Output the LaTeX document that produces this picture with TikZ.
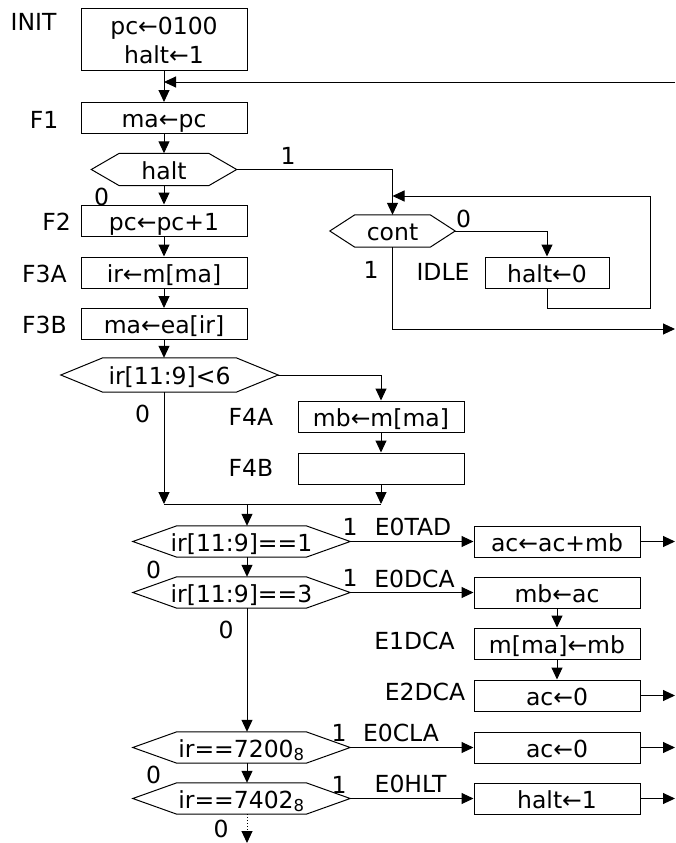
\documentclass[tikz,border=0pt]{standalone}
\usepackage{fontspec}
\setmainfont{DejaVu Sans}
\usetikzlibrary{arrows.meta}

\begin{document}
\begin{tikzpicture}[
	x=1pt, y=-1pt, % one unit per pixel, y downwards
	% Text in every part of the chart
	every node/.style={font=\fontsize{23.5}{29}\selectfont},
	% Boxes for the register transfers
	box/.style={
		draw, 
		line width=1pt, 
		minimum width=166, 
		minimum height=31, 
		inner sep=0pt
	},
	state/.style={
		box, 
		text height=19pt, 
		text depth=0pt
	},
	% Tests (the hexagon is drawn round them afterwards)
	test/.style={
		minimum height=32, 
		inner sep=0pt, 
		text height=19pt, 
		text depth=0pt
	},
	% State names and branch values
	tag/.style={inner sep=0pt},
	% Connectors
	link/.style={
		draw, 
		line width=1pt, 
		-{Triangle[length=12pt, width=11pt]}
	},
	wire/.style={draw, line width=1pt}
	]
	
	\useasboundingbox (0,0) rectangle (675,843);
	
	% ================= BOXES =================
	\node[box, minimum height=62, align=center] (init) at (164,40) {pc←0100\\halt←1};
	\node[state] (fOne)    at (164,118)   {ma←pc};
	\node[state] (fTwo)    at (164,220.5) {pc←pc+1};
	\node[state] (fThreeA) at (164,272.5) {ir←m[ma]};
	\node[state] (fThreeB) at (164,324)   {ma←ea[ir]};
	\node[state, minimum width=124] (idle) at (547,272.5) {halt←0};
	\node[state] (fFourA)  at (381,416.5) {mb←m[ma]};
	\node[state] (fFourB)  at (381,468.5) {};
	\node[state] (eTad)    at (557,541.5) {ac←ac+mb};
	\node[state] (eDcaA)   at (557,592.5) {mb←ac};
	\node[state] (eDcaB)   at (557,643.5) {m[ma]←mb};
	\node[state] (eDcaC)   at (557,695.5) {ac←0};
	\node[state] (eCla)    at (557,747.5) {ac←0};
	\node[state] (eHlt)    at (557,798.5) {halt←1};
	
	% ================= TESTS =================
	\node[test, minimum width=145] (dHalt) at (164,169.5) {halt};
	\node[test, minimum width=125] (dCont) at (392.5,231) {cont};
	\node[test, minimum width=217, minimum height=34] (dLtSix) at (169.5,375) {ir[11:9]<6};
	\node[test, minimum width=217, minimum height=31] (dTad) at (241.5,541.5) {ir[11:9]==1};
	\node[test, minimum width=217, minimum height=31] (dDca) at (241.5,592.5) {ir[11:9]==3};
	\node[test, minimum width=217, minimum height=31] (dCla) at (241.5,747.5) {ir==7200\textsubscript{8}};
	\node[test, minimum width=217, minimum height=31] (dHlt) at (241.5,798.5) {ir==7402\textsubscript{8}};
	
	\foreach \n/\s in {dHalt/28, dCont/25, dLtSix/42, dTad/44, dDca/44, dCla/44, dHlt/44}
		\draw[line width=1pt] (\n.west) -- ([xshift=\s]\n.north west) -- ([xshift=-\s]\n.north east) -- (\n.east) -- ([xshift=-\s]\n.south east) -- ([xshift=\s]\n.south west) -- cycle;
	
	% ================= LABELS =================
	\node[tag] (tInit)    at (33.5,22)    {INIT};
	\node[tag] (tFOne)    at (44,119.5)   {F1};
	\node[tag] (tFTwo)    at (56.5,222)   {F2};
	\node[tag] (tFThreeA) at (44.5,274)   {F3A};
	\node[tag] (tFThreeB) at (44.5,325)   {F3B};
	\node[tag] (vHaltOne) at (288,155.5)  {1};
	\node[tag] (vHaltZero) at (101.5,197) {0};
	\node[tag] (vContZero) at (463.5,218.5) {0};
	\node[tag] (vContOne) at (371,269.5)  {1};
	\node[tag] (tIdle)    at (443,271.5)  {IDLE};
	\node[tag] (vSixZero) at (142.5,414)  {0};
	\node[tag] (tFFourA)  at (251,416.5)  {F4A};
	\node[tag] (tFFourB)  at (251,468)    {F4B};
	\node[tag] (vTadOne)  at (350,527)    {1};
	\node[tag] (tETad)    at (413,527)    {E0TAD};
	\node[tag] (vTadZero) at (153.5,569.5) {0};
	\node[tag] (vDcaOne)  at (350,578)    {1};
	\node[tag] (tEDcaA)   at (414.5,578.5) {E0DCA};
	\node[tag] (vDcaZero) at (226,629.5)  {0};
	\node[tag] (tEDcaB)   at (414.5,641)  {E1DCA};
	\node[tag] (tEDcaC)   at (425,692)    {E2DCA};
	\node[tag] (vClaOne)  at (339,732.5)  {1};
	\node[tag] (tECla)    at (401,732.5)  {E0CLA};
	\node[tag] (vClaZero) at (153.5,775)  {0};
	\node[tag] (vHltOne)  at (339,784.5)  {1};
	\node[tag] (tEHlt)    at (410.5,784)  {E0HLT};
	\node[tag] (vHltZero) at (221,828.5)  {0};
	
	% ================= CONNECTORS =================
	\coordinate (loopIn)   at (675,82);
	\coordinate (contIn)   at (392.5,196);
	\coordinate (idleTurn) at (650,308);
	\coordinate (idleOut)  at (675,329);
	\coordinate (join)     at (247,504);
	\coordinate (rEdge)    at (675,0);
	\coordinate (exitTip)  at (247,843);
	
	\draw[link] (init) -- (fOne);
	\draw[link] (loopIn) -- (loopIn -| init);
	\draw[link] (fOne) -- (dHalt);
	\draw[link] (dHalt) -- (fTwo);
	\draw[link] (fTwo) -- (fThreeA);
	\draw[link] (fThreeA) -- (fThreeB);
	\draw[link] (fThreeB.south) -- (dLtSix.north -| fThreeB);
	\draw[link] (dHalt.east) -| (dCont.north);
	\draw[link] (dCont.east) -| (idle.north);
	\draw[link] (idle.south) |- (idleTurn) |- (contIn);
	\draw[link] (dCont.south) |- (idleOut);
	\draw[link] (dLtSix.east) -| (fFourA.north);
	\draw[link] (fFourA) -- (fFourB);
	\draw[link] (fFourB) -- (fFourB |- join);
	\draw[link] (dLtSix.south -| fThreeB) -- (join -| fThreeB);
	\draw[wire] (join -| fThreeB) -- (join -| fFourB);
	\draw[link] (join) -- (join |- dTad.north);
	\draw[link] (dTad.south -| join) -- (dDca.north -| join);
	\draw[link] (dDca.south -| join) -- (dCla.north -| join);
	\draw[link] (dCla.south -| join) -- (dHlt.north -| join);
	\draw[link, dotted] (dHlt.south -| join) -- (exitTip);
	\draw[link] (dTad.east) -- (dTad.east -| eTad.west);
	\draw[link] (dDca.east) -- (dDca.east -| eDcaA.west);
	\draw[link] (eDcaA) -- (eDcaB);
	\draw[link] (eDcaB) -- (eDcaC);
	\draw[link] (dCla.east) -- (dCla.east -| eCla.west);
	\draw[link] (dHlt.east) -- (dHlt.east -| eHlt.west);
	\foreach \n in {eTad, eDcaC, eCla, eHlt}
		\draw[link] (\n.east) -- (\n.east -| rEdge);
	
\end{tikzpicture}
\end{document}
